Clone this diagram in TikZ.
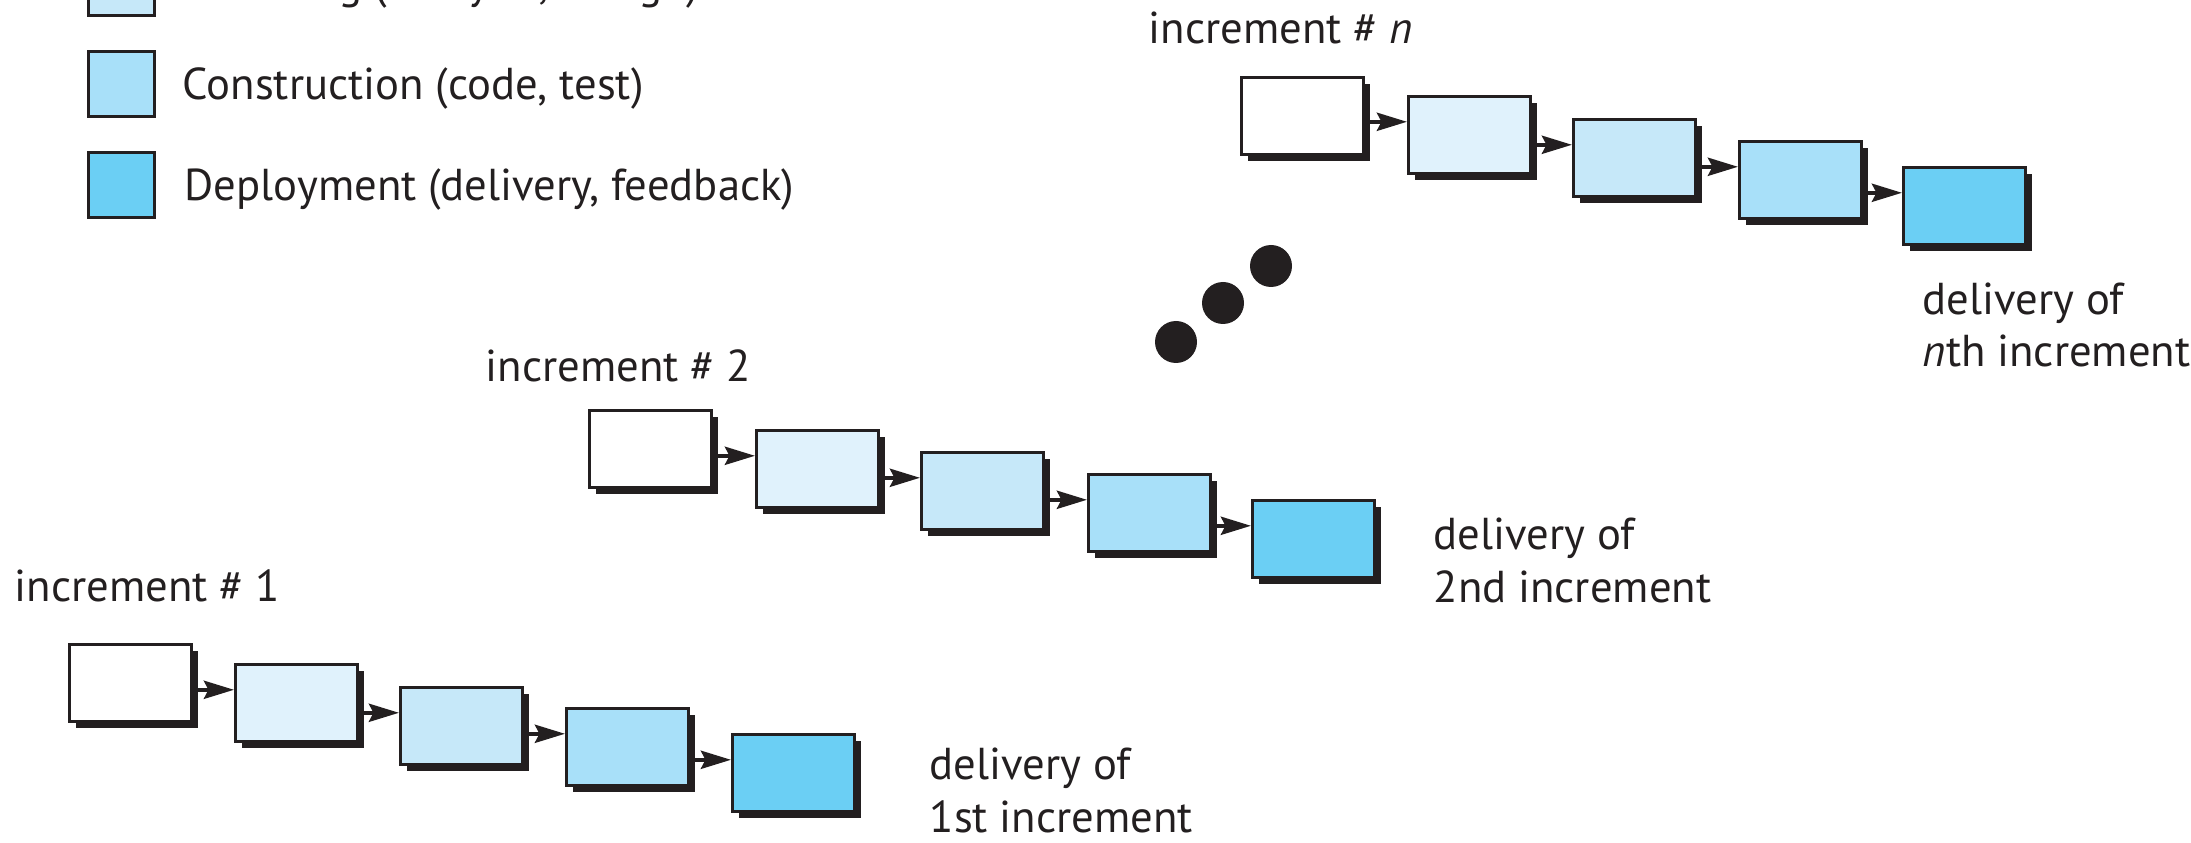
\documentclass[tikz,border=0pt]{standalone}
\usepackage{fontspec}
\setmainfont{PT Sans}
\usetikzlibrary{arrows.meta,shadows}
\definecolor{ink}{HTML}{231F20}
\definecolor{planfill}{HTML}{E0F2FC}
\definecolor{modelfill}{HTML}{C6E8F9}
\definecolor{buildfill}{HTML}{A8E0F9}
\definecolor{deployfill}{HTML}{6BCFF4}

\begin{document}
\begin{tikzpicture}[x=0.01cm, y=0.01cm]
			\tikzstyle{every node}+=[inner sep=0pt, text=ink, font=\fontsize{12.7}{14.8}\selectfont]
			\tikzstyle{task}=[draw=ink, line width=0.9pt, anchor=north west, minimum width=1.22cm, minimum height=0.77cm, general shadow={fill=ink, shadow xshift=0.06cm, shadow yshift=-0.06cm}]
			\tikzstyle{key}=[draw=ink, line width=0.9pt, anchor=north west, minimum width=0.66cm, minimum height=0.65cm]
			\tikzstyle{flow}=[ink, line width=1.2pt, -{Stealth[length=0.3cm, width=0.18cm, inset=0.045cm]}]
			\tikzstyle{txt}=[anchor=base west, align=left]
			\useasboundingbox (0,0) rectangle (2191,-843);
			\clip (0,0) rectangle (2191,-843);
			% key
			\node [key, fill=modelfill] (kmodel) at (87,51) {};
			\node [key, fill=buildfill] (kbuild) at (87,-50) {};
			\node [key, fill=deployfill] (kdeploy) at (87,-151) {};
			\node [txt] (tmodel) at (182,1) {Modeling (analysis, design)};
			\node [txt] (tbuild) at (182,-100) {Construction (code, test)};
			\node [txt] (tdeploy) at (184,-201) {Deployment (delivery, feedback)};
			% increment 1
			\node [txt] (inc1) at (14,-601) {increment \# 1};
			\node [task, fill=white] (a1) at (68,-643) {};
			\node [task, fill=planfill] (a2) at (234,-663) {};
			\node [task, fill=modelfill] (a3) at (399,-686) {};
			\node [task, fill=buildfill] (a4) at (565,-707) {};
			\node [task, fill=deployfill] (a5) at (731,-733) {};
			\draw [flow] (a1.east |- a2.168) -- (a2.168);
			\draw [flow] (a2.east |- a3.168) -- (a3.168);
			\draw [flow] (a3.east |- a4.168) -- (a4.168);
			\draw [flow] (a4.east |- a5.168) -- (a5.168);
			\node [txt] (out1) at (929,-832) {delivery of\\1st increment};
			% increment 2
			\node [txt] (inc2) at (485,-382) {increment \# 2};
			\node [task, fill=white] (b1) at (588,-409) {};
			\node [task, fill=planfill] (b2) at (755,-429) {};
			\node [task, fill=modelfill] (b3) at (920,-451) {};
			\node [task, fill=buildfill] (b4) at (1087,-473) {};
			\node [task, fill=deployfill] (b5) at (1251,-499) {};
			\draw [flow] (b1.east |- b2.168) -- (b2.168);
			\draw [flow] (b2.east |- b3.168) -- (b3.168);
			\draw [flow] (b3.east |- b4.168) -- (b4.168);
			\draw [flow] (b4.east |- b5.168) -- (b5.168);
			\node [txt] (out2) at (1433,-602) {delivery of\\2nd increment};
			% increment n
			\node [txt] (incn) at (1148,-44) {increment \# \textit{n}};
			\node [task, fill=white] (c1) at (1240,-76) {};
			\node [task, fill=planfill] (c2) at (1407,-95) {};
			\node [task, fill=modelfill] (c3) at (1572,-118) {};
			\node [task, fill=buildfill] (c4) at (1738,-140) {};
			\node [task, fill=deployfill] (c5) at (1902,-166) {};
			\draw [flow] (c1.east |- c2.168) -- (c2.168);
			\draw [flow] (c2.east |- c3.168) -- (c3.168);
			\draw [flow] (c3.east |- c4.168) -- (c4.168);
			\draw [flow] (c4.east |- c5.168) -- (c5.168);
			\node [txt] (outn) at (1922,-367) {delivery of\\\textit{n}th increment};
			% dots between increments
			\fill [ink] (1176,-342) circle (21);
			\fill [ink] (1223,-303) circle (21);
			\fill [ink] (1271,-266) circle (21);
\end{tikzpicture}
\end{document}
